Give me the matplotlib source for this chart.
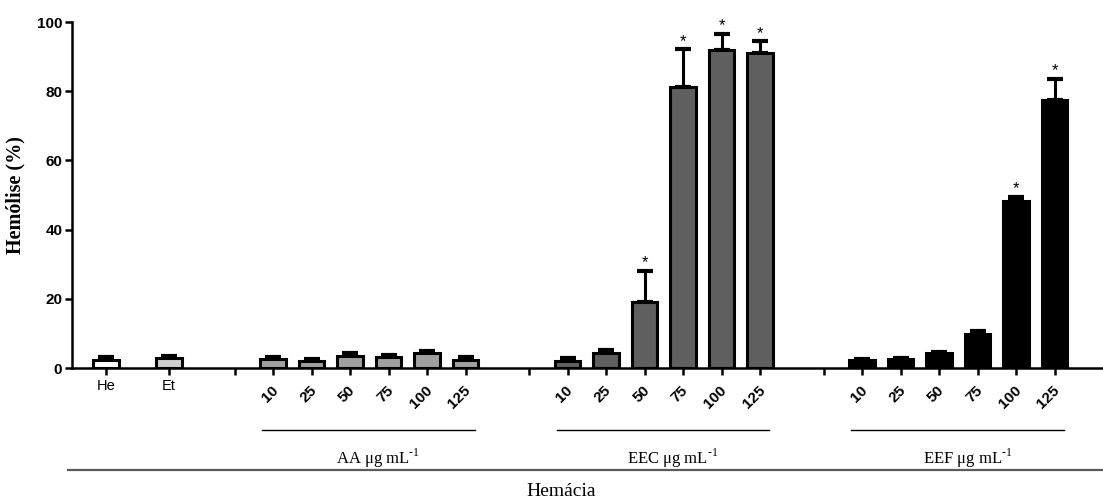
import matplotlib
matplotlib.use("Agg")
import matplotlib.pyplot as plt
import matplotlib.transforms as mtransforms
import numpy as np

plt.rcParams['mathtext.fontset'] = 'custom'
plt.rcParams['mathtext.rm'] = 'Liberation Serif'

# ---- data ----
control_labels = ["He", "Et"]
control_values = [2.3, 2.8]
control_errors = [0.8, 0.6]
control_colors = ["#ffffff", "#d0d0d0"]

concentrations = ["10", "25", "50", "75", "100", "125"]
group_names = ["AA", "EEC", "EEF"]
aa_values = [2.5, 2.0, 3.5, 3.3, 4.4, 2.4]
aa_errors = [0.6, 0.7, 0.7, 0.6, 0.5, 0.8]
eec_values = [2.1, 4.2, 19.2, 81.1, 91.9, 91.1]
eec_errors = [0.8, 1.0, 8.9, 11.0, 4.7, 3.3]
eef_values = [2.4, 2.6, 4.4, 9.9, 48.4, 77.5]
eef_errors = [0.3, 0.3, 0.3, 0.8, 1.1, 6.0]
eec_sig = [False, False, True, True, True, True]
eef_sig = [False, False, False, False, True, True]
aa_sig = [False] * 6
group_colors = ["#a0a0a0", "#5f5f5f", "#000000"]

values = [aa_values, eec_values, eef_values]
errors = [aa_errors, eec_errors, eef_errors]
sigs = [aa_sig, eec_sig, eef_sig]

# ---- layout (pixel-like x units) ----
fig = plt.figure(figsize=(11.03, 5.0), dpi=100)
ax = fig.add_axes([72 / 1103, 132 / 500, 1 - 72 / 1103, 346 / 500])

step = 38.5
group_offset = 294.5
first_group_start = 273.0
control_pos = [106.0, 169.0]
bar_w = 25.5

ax.bar(control_pos, control_values, width=bar_w, color=control_colors,
       edgecolor="black", linewidth=2.2, zorder=2)
ax.errorbar(control_pos, control_values,
            yerr=[np.zeros(2), control_errors], fmt="none",
            ecolor="black", elinewidth=2.2, capsize=5.5, capthick=3, zorder=1)

tick_pos = list(control_pos)
tick_lab = list(control_labels)
group_centers = []
for g, (vals, errs, sg, col) in enumerate(zip(values, errors, sigs, group_colors)):
    start = first_group_start + g * group_offset
    pos = [start + i * step for i in range(len(vals))]
    gap_tick = start - step
    ax.bar(pos, vals, width=bar_w, color=col, edgecolor="black",
           linewidth=2.2, zorder=2)
    ax.errorbar(pos, vals, yerr=[np.zeros(len(vals)), errs], fmt="none",
                ecolor="black", elinewidth=2.2, capsize=5.5, capthick=3, zorder=1)
    for p, v, e, s in zip(pos, vals, errs, sg):
        if s:
            ax.text(p, v + e + 0.2, "*", ha="center", va="bottom",
                    fontsize=12, family="Liberation Sans")
    tick_pos += [gap_tick] + pos
    tick_lab += [""] + concentrations
    group_centers.append((pos[0] - 11, pos[-1] + 9))

ax.set_xlim(72, 1103)
ax.set_ylim(0, 100)
ax.set_xticks(tick_pos)
ax.set_xticklabels(tick_lab)
ax.set_yticks([0, 20, 40, 60, 80, 100])

for sp in ["top", "right"]:
    ax.spines[sp].set_visible(False)
for sp in ["left", "bottom"]:
    ax.spines[sp].set_linewidth(1.8)

ax.tick_params(axis="y", direction="out", length=5, width=1.8, pad=2)
ax.tick_params(axis="x", direction="out", length=5, width=1.8, pad=3)
for lbl in ax.get_yticklabels():
    lbl.set_fontfamily("Liberation Sans")
    lbl.set_fontweight("bold")
    lbl.set_fontsize(11)

offset = mtransforms.ScaledTranslation(-2 / 100, -4 / 100, fig.dpi_scale_trans)
for lbl in ax.get_xticklabels():
    txt = lbl.get_text()
    lbl.set_fontfamily("Liberation Sans")
    if txt in control_labels:
        lbl.set_fontsize(10.5)
    else:
        lbl.set_fontsize(11)
        lbl.set_fontweight("bold")
        lbl.set_rotation(45)
        lbl.set_ha("right")
        lbl.set_va("top")
        lbl.set_rotation_mode("anchor")
        lbl.set_transform(lbl.get_transform() + offset)

ax.set_ylabel("Hemólise (%)", fontsize=14.5, fontweight="bold",
              family="Liberation Serif", labelpad=8)

# group lines and labels
trans = mtransforms.blended_transform_factory(ax.transData, fig.transFigure)
for name, (x0, x1) in zip(group_names, group_centers):
    ax.plot([x0, x1], [1 - 430 / 500] * 2, color="black", lw=1.0,
            transform=trans, clip_on=False)
    ax.text((x0 + x1) / 2 + 10, 1 - 458 / 500,
            name + r" μg mL$^{\text{-1}}$", transform=trans,
            ha="center", va="center", fontsize=12, family="Liberation Serif")

fig.add_artist(plt.Line2D([68 / 1103, 1], [1 - 470 / 500] * 2, color="#5a5a5a",
                          lw=1.6, transform=fig.transFigure))
fig.text(561 / 1103, 1 - 492 / 500, "Hemácia", ha="center", va="center",
         fontsize=14, family="Liberation Serif")

fig.savefig("out.png", dpi=100)
